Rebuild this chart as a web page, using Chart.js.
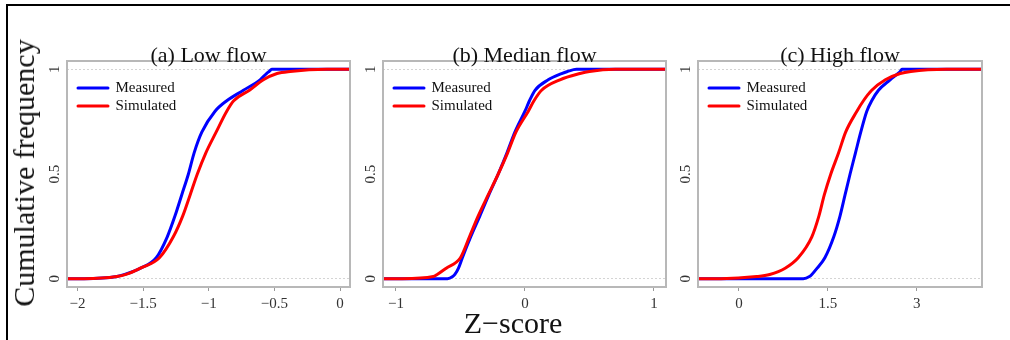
<!DOCTYPE html>
<html>
<head>
<meta charset="utf-8">
<script src="https://cdn.jsdelivr.net/npm/chart.js@4/dist/chart.umd.min.js"></script>
<style>
  body { margin: 0; background: #fff; width: 1010px; height: 340px; overflow: hidden; position: relative; font-family: "Liberation Serif", serif; }
  #frame { position: absolute; left: 6px; top: 4px; width: 1010px; height: 340px; border-top: 2px solid #000; border-left: 2px solid #000; }
  canvas { position: absolute; top: 30px; }
  .axtitle { position: absolute; font-size: 30px; line-height: 30px; white-space: nowrap; color: #111; transform: translate(-50%, -50%); }
  #ytitle { left: 23.5px; top: 173px; transform: translate(-50%, -50%) rotate(-90deg); }
  #xtitle { left: 513px; top: 323px; }
</style>
</head>
<body>
<div id="frame"></div>
<canvas id="c1" width="319" height="290" style="left:37px"></canvas>
<canvas id="c2" width="319" height="290" style="left:353px"></canvas>
<canvas id="c3" width="320" height="290" style="left:668px"></canvas>
<div class="axtitle" id="ytitle">Cumulative frequency</div>
<div class="axtitle" id="xtitle">Z−score</div>
<script>
// cumulative frequency levels (first/last entries are the flat tails to the plot edges)
const probs = [0, 0, 0.01, 0.02, 0.05, 0.1, 0.2, 0.3, 0.4, 0.5, 0.6, 0.7, 0.8, 0.85, 0.9, 0.95, 0.98, 0.99, 1, 1];

// Z-score at each level
const lowMeasured  = [-2.08, -1.95, -1.70, -1.64, -1.52, -1.40, -1.316, -1.257, -1.206, -1.155, -1.112, -1.053, -0.952, -0.863, -0.736, -0.609, -0.56, -0.54, -0.52, 0.08];
const lowSimulated = [-2.08, -1.95, -1.70, -1.63, -1.52, -1.376, -1.27, -1.198, -1.142, -1.087, -1.023, -0.944, -0.863, -0.81, -0.69, -0.584, -0.48, -0.38, -0.1, 0.08];
const medMeasured  = [-1.10, -0.60, -0.56, -0.543, -0.515, -0.485, -0.42, -0.349, -0.28, -0.207, -0.14, -0.078, 0.0, 0.035, 0.078, 0.18, 0.284, 0.33, 0.40, 1.09];
const medSimulated = [-1.10, -0.95, -0.71, -0.68, -0.61, -0.50, -0.43, -0.362, -0.285, -0.207, -0.135, -0.07, 0.026, 0.07, 0.129, 0.271, 0.426, 0.50, 0.70, 1.09];
const highMeasured  = [-0.69, 1.086, 1.19, 1.23, 1.32, 1.45, 1.60, 1.706, 1.79, 1.875, 1.965, 2.055, 2.157, 2.24, 2.354, 2.55, 2.68, 2.72, 2.75, 4.10];
const highSimulated = [-0.69, -0.30, 0.30, 0.52, 0.78, 1.0, 1.23, 1.35, 1.44, 1.55, 1.68, 1.80, 1.99, 2.10, 2.24, 2.47, 2.72, 2.90, 3.50, 4.10];

const titles = ['(a) Low flow', '(b) Median flow', '(c) High flow'];
const seriesNames = ['Measured', 'Simulated'];
const xRanges = [[-2.08, 0.076], [-1.10, 1.093], [-0.69, 4.10]];
const xTicks = [[-2, -1.5, -1, -0.5, 0], [-1, 0, 1], [0, 1.5, 3]];
const yTicks = [0, 0.5, 1];

const serif = 'Liberation Serif';

// panel title + grey box around the plot region
const panelDecor = {
    id: 'panelDecor',
    afterDraw(chart) {
        const a = chart.chartArea;
        const ctx = chart.ctx;
        ctx.save();
        ctx.strokeStyle = '#b8b8b8';
        ctx.lineWidth = 2;
        ctx.strokeRect(a.left, a.top, a.right - a.left, a.bottom - a.top);
        ctx.fillStyle = '#111';
        ctx.font = '22px "' + serif + '"';
        ctx.textAlign = 'center';
        ctx.textBaseline = 'alphabetic';
        ctx.fillText(chart.options.plugins.panelDecor.title, (a.left + a.right) / 2, a.top + 0.5);
        ctx.restore();
    }
};

// put the legend a little inside the top-left of the plot region
const legendNudge = {
    id: 'legendNudge',
    afterLayout(chart) {
        const lg = chart.legend;
        const a = chart.chartArea;
        const w = lg.right - lg.left, h = lg.bottom - lg.top;
        lg.left = a.left + 8; lg.right = lg.left + w;
        lg.top = a.top + 16.5; lg.bottom = lg.top + h;
    }
};

function makePanel(id, idx, measured, simulated) {
    new Chart(document.getElementById(id), {
        type: 'line',
        data: {
            datasets: [
                {
                    label: seriesNames[0],
                    data: measured.map((x, i) => ({x: x, y: probs[i]})),
                    borderColor: '#0000ff',
                    backgroundColor: '#0000ff',
                    order: 2
                },
                {
                    label: seriesNames[1],
                    data: simulated.map((x, i) => ({x: x, y: probs[i]})),
                    borderColor: '#ff0000',
                    backgroundColor: '#ff0000',
                    order: 1
                }
            ]
        },
        options: {
            responsive: false,
            animation: false,
            layout: { padding: { top: 31, right: 6, left: 0, bottom: 0 } },
            elements: {
                point: { radius: 0 },
                line: { borderWidth: 3, cubicInterpolationMode: 'monotone', borderJoinStyle: 'round' }
            },
            scales: {
                x: {
                    type: 'linear',
                    min: xRanges[idx][0],
                    max: xRanges[idx][1],
                    afterBuildTicks: (s) => { s.ticks = xTicks[idx].map(v => ({value: v})); },
                    afterFit: (s) => { s.height = 33; },
                    grid: { drawOnChartArea: false, drawTicks: true, tickLength: 4, tickColor: '#999' },
                    border: { display: false },
                    ticks: {
                        autoSkip: false, maxRotation: 0, padding: 4, color: '#333',
                        font: { family: serif, size: 15 },
                        callback: (v) => String(v).replace('-', '\u2212')
                    }
                },
                y: {
                    min: -0.04,
                    max: 1.04,
                    afterBuildTicks: (s) => { s.ticks = yTicks.map(v => ({value: v})); },
                    afterFit: (s) => { s.width = 30; },
                    grid: {
                        drawTicks: false,
                        lineWidth: 1,
                        color: (c) => c.tick && c.tick.value === 0.5 ? 'rgba(0,0,0,0)' : '#d4d4d4'
                    },
                    border: { display: false, dash: [2, 2] },
                    ticks: {
                        minRotation: 90, maxRotation: 90, crossAlign: 'center', padding: 3, color: '#333',
                        font: { family: serif, size: 15 },
                        callback: (v) => String(v)
                    }
                }
            },
            plugins: {
                panelDecor: { title: titles[idx] },
                tooltip: { enabled: false },
                legend: {
                    position: 'chartArea',
                    align: 'start',
                    labels: {
                        boxWidth: 30,
                        boxHeight: 0,
                        padding: 3,
                        color: '#111',
                        font: { family: serif, size: 15 },
                        sort: (a, b) => a.datasetIndex - b.datasetIndex
                    }
                }
            }
        },
        plugins: [panelDecor, legendNudge]
    });
}

makePanel('c1', 0, lowMeasured, lowSimulated);
makePanel('c2', 1, medMeasured, medSimulated);
makePanel('c3', 2, highMeasured, highSimulated);
</script>
</body>
</html>
